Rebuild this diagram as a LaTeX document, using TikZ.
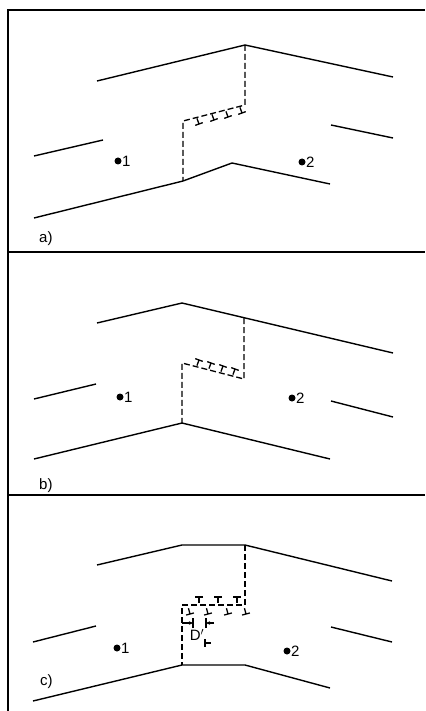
\documentclass[tikz,border=0pt]{standalone}
\usepackage{fontspec}
\setmainfont{Liberation Sans}
\usetikzlibrary{arrows.meta}

\begin{document}
\begin{tikzpicture}[
    x=1pt, y=-1pt,
    >={Stealth[length=4pt,width=3.5pt]},
    wall/.style={line width=1.4pt},
    seam/.style={line width=1.3pt, dash pattern=on 6pt off 3pt},
    disl/.style={line width=1.3pt},
    atom/.style={circle, fill, inner sep=0pt, minimum size=7pt},
    lbl/.style={font=\fontsize{15}{17}\selectfont, inner sep=0pt},
    tag/.style={lbl, anchor=west},
    perp/.pic={\draw[disl] (-4,0) -- (4,0) (0,0) -- (0,-6);}
  ]
  \useasboundingbox (0,0) rectangle (425,711);

  % frame and dividers
  \draw[wall] (425,10) -- (8,10) -- (8,711);
  \draw[wall] (8,252) -- (425,252);
  \draw[wall] (8,495) -- (425,495);

  % a)
  \draw[wall] (97,81) -- (245,45) -- (393,77);
  \draw[wall] (34,218) -- (183,181) -- (232,163) -- (330,184);
  \draw[wall] (34,156) -- (103,140);
  \draw[wall] (331,125) -- (393,138);
  \draw[seam] (245,45) -- (245,105) -- (183,121) -- (183,181);
  \foreach \x/\y in {199/124, 214/120, 228/117, 242/113}
    \pic[rotate=20] at (\x,\y) {perp};
  \node[atom] (a1) at (118,161) {};
  \node[atom] (a2) at (302,162) {};
  \node[lbl, right=4pt] (na1) at (a1) {1};
  \node[lbl, right=4pt] (na2) at (a2) {2};
  \node[tag] (ta) at (39,239) {a)};

  % b)
  \draw[wall] (97,323) -- (182,303) -- (393,353);
  \draw[wall] (34,459) -- (182,423) -- (330,459);
  \draw[wall] (34,399) -- (96,384);
  \draw[wall] (331,401) -- (393,417);
  \draw[seam] (244,318) -- (244,379) -- (182,363) -- (182,423);
  \foreach \x/\y in {199/360, 211/363, 223/366, 235/369}
    \pic[rotate=160] at (\x,\y) {perp};
  \node[atom] (b1) at (120,397) {};
  \node[atom] (b2) at (292,398) {};
  \node[lbl, right=4pt] (nb1) at (b1) {1};
  \node[lbl, right=4pt] (nb2) at (b2) {2};
  \node[tag] (tb) at (39,486) {b)};

  % c)
  \draw[wall] (97,565) -- (182,545) -- (245,545) -- (392,581);
  \draw[wall] (33,701) -- (182,665) -- (245,665) -- (330,688);
  \draw[wall] (33,642) -- (96,626);
  \draw[wall] (331,627) -- (392,642);
  \draw[seam] (245,545) -- (245,605) -- (182,605) -- (182,665);
  \foreach \x in {199, 218, 237}
    \pic[rotate=180] at (\x,597) {perp};
  \foreach \x in {190, 208, 228, 246}
    \pic[rotate=15] at (\x,614) {perp};
  \coordinate (d1) at (193,623);
  \coordinate (d2) at (206,623);
  \draw[disl, ->] (182,623) -- (d1);
  \draw[disl] ([yshift=-5pt]d1) -- ([yshift=5pt]d1);
  \draw[disl, ->] (214,623) -- (d2);
  \draw[disl] ([yshift=-5pt]d2) -- ([yshift=5pt]d2);
  \pic[rotate=-90] at (205,643) {perp};
  \node[lbl] (dp) at (197,635) {D$'$};
  \node[atom] (c1) at (117,648) {};
  \node[atom] (c2) at (287,651) {};
  \node[lbl, right=4pt] (nc1) at (c1) {1};
  \node[lbl, right=4pt] (nc2) at (c2) {2};
  \node[tag] (tc) at (40,682) {c)};
\end{tikzpicture}
\end{document}
